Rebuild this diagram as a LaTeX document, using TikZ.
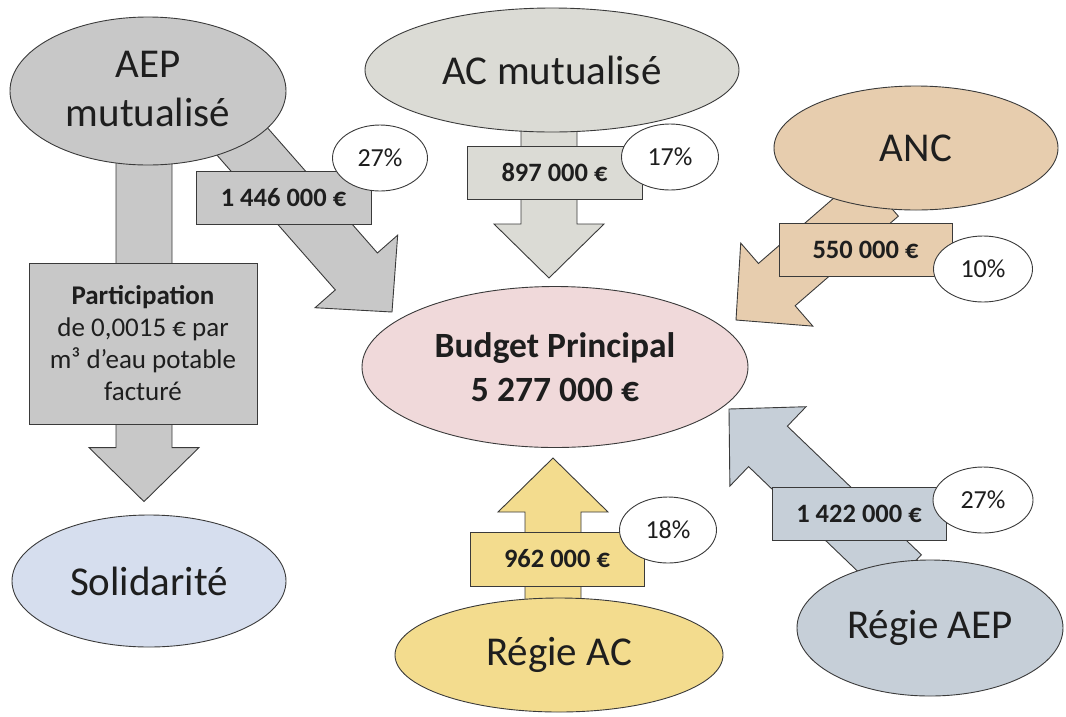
\documentclass[tikz,border=0pt]{standalone}
\usepackage{fontspec}
\setmainfont{Carlito}
\usetikzlibrary{shapes.geometric,calc}
\pgfdeclarelayer{background}
\pgfsetlayers{background,main}
\definecolor{linec}{HTML}{3A3A3A}
\definecolor{txt}{HTML}{1E1E1E}
\definecolor{cAEP}{HTML}{C8C8C8}
\definecolor{cAC}{HTML}{DBDBD5}
\definecolor{cANC}{HTML}{E7CDAE}
\definecolor{cBP}{HTML}{F0D9DA}
\definecolor{cRAC}{HTML}{F3DC8E}
\definecolor{cRAEP}{HTML}{C6CFD8}
\definecolor{cSOL}{HTML}{D6DEEE}
\tikzset{
  base/.style={draw=linec, line width=0.9pt, text=txt},
  bigell/.style={base, ellipse, inner sep=0pt, align=center, font=\fontsize{41}{49}\selectfont},
  pct/.style={base, ellipse, fill=white, inner sep=0pt, minimum width=97pt, minimum height=66pt, font=\fontsize{26}{30}\selectfont},
  valbox/.style={base, rectangle, inner sep=0pt, minimum width=175pt, minimum height=53pt, font=\bfseries\fontsize{26.5}{30}\selectfont},
  flow/.style={base, line join=miter},
}
% #1 name prefix, #2 start, #3 tip, #4 style
\newcommand{\blockarrow}[4]{%
  \coordinate (#1b) at ($(#3)!54pt!(#2)$);
  \filldraw[#4] ($(#2)!28pt!90:(#3)$) -- ($(#1b)!28pt!-90:(#2)$) -- ($(#1b)!55pt!-90:(#2)$) -- (#3)
    -- ($(#1b)!55pt!90:(#2)$) -- ($(#1b)!28pt!90:(#2)$) -- ($(#2)!28pt!-90:(#3)$) -- cycle;
}
\begin{document}
\begin{tikzpicture}[x=1pt,y=-1pt]
\useasboundingbox (0,0) rectangle (1066,716);
% main ellipses
\node[bigell, fill=cAEP, minimum width=276pt, minimum height=148pt, text depth=4pt] (aep) at (148,91) {AEP\\mutualisé};
\node[bigell, fill=cAC, minimum width=374pt, minimum height=124pt] (ac) at (552,70) {AC mutualisé};
\node[bigell, fill=cANC, minimum width=284pt, minimum height=124pt] (anc) at (916,148) {\raisebox{-3pt}{ANC}};
\node[bigell, fill=cBP, minimum width=386pt, minimum height=161pt, font=\bfseries\fontsize{35.5}{44}\selectfont] (bp) at (555,367) {Budget Principal\\5 277 000 €};
\node[bigell, fill=cSOL, minimum width=274pt, minimum height=132pt] (sol) at (149,581) {Solidarité};
\node[bigell, fill=cRAC, minimum width=328pt, minimum height=114pt] (rac) at (559,655) {\raisebox{-5pt}{Régie AC}};
\node[bigell, fill=cRAEP, minimum width=266pt, minimum height=136pt] (raep) at (930,628) {Régie AEP};
% start and tip coordinates
\coordinate (s0) at ($(aep.center)+(-4,0)$);
\coordinate (t0) at ($(sol.north)+(-5,-13)$);
\coordinate (s1) at ($(aep.center)+(42,-9)$);
\coordinate (t1) at (392,312);
\coordinate (s2) at ($(ac.center)+(-3,0)$);
\coordinate (t2) at (549,278);
\coordinate (s3) at ($(anc.center)+(-36,47)$);
\coordinate (t3) at (736,320);
\coordinate (s4) at ($(rac.center)+(-6,0)$);
\coordinate (t4) at (553,458);
\coordinate (s5) at ($(raep.center)+(-28,-53)$);
\coordinate (t5) at (729,409);
\begin{pgfonlayer}{background}
\blockarrow{a0}{s0}{t0}{flow, fill=cAEP}
\blockarrow{a1}{s1}{t1}{flow, fill=cAEP}
\blockarrow{a2}{s2}{t2}{flow, fill=cAC}
\blockarrow{a3}{s3}{t3}{flow, fill=cANC}
\blockarrow{a4}{s4}{t4}{flow, fill=cRAC}
\blockarrow{a5}{s5}{t5}{flow, fill=cRAEP}
\end{pgfonlayer}
% value boxes
\node[base, rectangle, fill=cAEP, inner sep=0pt, minimum width=228pt, minimum height=161pt, align=center, font=\fontsize{27}{32}\selectfont] (part) at (143,343.5) {\textbf{Participation}\\de 0,0015 € par\\m³ d’eau potable\\facturé};
\node[valbox, fill=cAEP] (b1) at (283.5,197.5) {1 446 000 €};
\node[valbox, fill=cAC] (b2) at (554.5,172.5) {897 000 €};
\node[valbox, fill=cANC, minimum width=173pt] (b3) at (865.5,249.5) {550 000 €};
\node[valbox, fill=cRAC, minimum width=174pt, minimum height=54pt] (b4) at (557,559) {962 000 €};
\node[valbox, fill=cRAEP, minimum width=174pt] (b5) at (859,513.5) {1 422 000 €};
% percentages
\node[pct, minimum width=95pt] (p1) at (380,158) {27\%};
\node[pct] (p2) at (670,157) {17\%};
\node[pct, minimum width=99pt] (p3) at (983,269) {10\%};
\node[pct] (p4) at (668,530) {18\%};
\node[pct, minimum width=100pt] (p5) at (983,500) {27\%};
\end{tikzpicture}
\end{document}
